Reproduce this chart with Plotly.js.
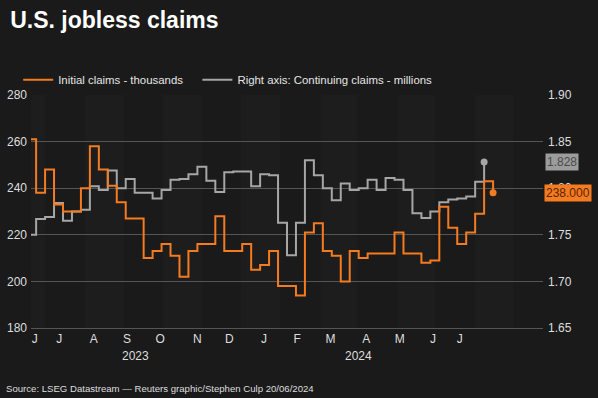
<!DOCTYPE html>
<html><head><meta charset="utf-8">
<script src="https://cdn.plot.ly/plotly-3.0.1.min.js"></script>
<style>html,body{margin:0;padding:0;background:#1a1a1a;} #chart{width:598px;height:398px;}</style>
</head><body><div id="chart"></div>
<script>
// Weekly dates (week ending)
const weekDates = ['2023-06-17','2023-06-24','2023-07-01','2023-07-08','2023-07-15','2023-07-22','2023-07-29',
 '2023-08-05','2023-08-12','2023-08-19','2023-08-26','2023-09-02','2023-09-09','2023-09-16','2023-09-23','2023-09-30',
 '2023-10-07','2023-10-14','2023-10-21','2023-10-28','2023-11-04','2023-11-11','2023-11-18','2023-11-25',
 '2023-12-02','2023-12-09','2023-12-16','2023-12-23','2023-12-30','2024-01-06','2024-01-13','2024-01-20','2024-01-27',
 '2024-02-03','2024-02-10','2024-02-17','2024-02-24','2024-03-02','2024-03-09','2024-03-16','2024-03-23','2024-03-30',
 '2024-04-06','2024-04-13','2024-04-20','2024-04-27','2024-05-04','2024-05-11','2024-05-18','2024-05-25',
 '2024-06-01','2024-06-08','2024-06-15'];
// Initial claims, thousands (left axis)
const initialClaims = [261,238,248,233,230,230,240,258,248,241,234,227,227,210,213,216,211,202,213,216,216,228,213,213,
 216,205,207,213,198,198,194,221,225,213,211,200,213,210,212,212,212,221,212,212,208,209,232,223,216,221,229,243,238];
// Continuing claims, millions (right axis) - one week behind
const continuingClaims = [1.750,1.767,1.769,1.784,1.765,1.775,1.777,1.802,1.798,1.819,1.800,1.810,1.795,1.795,1.789,1.798,
 1.809,1.810,1.815,1.823,1.808,1.796,1.817,1.818,1.818,1.802,1.815,1.814,1.763,1.728,1.763,1.830,1.814,1.800,1.787,1.805,
 1.798,1.800,1.809,1.798,1.811,1.809,1.798,1.773,1.768,1.775,1.785,1.788,1.789,1.791,1.807,1.828];
const continuingDates = weekDates.slice(0, continuingClaims.length);

// Axis tick labels
const monthTickDates = ['2023-06-23','2023-07-12','2023-08-08','2023-09-03','2023-09-29','2023-10-28','2023-11-22',
 '2023-12-19','2024-01-14','2024-02-09','2024-03-08','2024-04-03','2024-04-29','2024-05-20'];
const monthTickText = ['J','J','A','S','O','N','D','J','F','M','A','M','J','J'];
const yearLabels = ['2023','2024'];
const yearLabelDates = ['2023-09-10','2024-03-02'];
const leftTicks = [180,200,220,240,260,280];
const rightTicks = [1.65,1.70,1.75,1.80,1.85,1.90];
const rightTickText = ['1.65','1.70','1.75','1.80','1.85','1.90'];

const ORANGE = '#f47b20', GREY = '#a6a6a6', TXT = '#dedede', GRID = '#555555';
const FONT = 'Liberation Sans, Arial, sans-serif';

// alternating month bands
const shapes = [];
for (let i = 0; i < 14; i++) {
  if (i % 2 !== 0) continue;
  const s = new Date(Date.UTC(2023, 5 + i, 1));
  const e = new Date(Date.UTC(2023, 6 + i, 1));
  shapes.push({type:'rect', xref:'x', yref:'paper', x0:s.toISOString().slice(0,10), x1:e.toISOString().slice(0,10),
    y0:0, y1:1, fillcolor:'rgba(255,255,255,0.014)', line:{width:0}, layer:'below'});
}

const lastI = initialClaims.length - 1, lastC = continuingClaims.length - 1;
const traces = [
  {x: weekDates, y: initialClaims, yaxis:'y2', type:'scatter', mode:'lines', name:'Initial claims - thousands',
   line:{color:ORANGE, width:2, shape:'hv'}, hoverinfo:'skip', legend:'legend'},
  {x: continuingDates, y: continuingClaims, yaxis:'y', type:'scatter', mode:'lines', name:'Right axis: Continuing claims - millions',
   line:{color:GREY, width:2, shape:'hv'}, hoverinfo:'skip', legend:'legend2'},
  {x: [weekDates[lastI]], y: [initialClaims[lastI]], yaxis:'y2', type:'scatter', mode:'markers', showlegend:false,
   marker:{color:ORANGE, size:7}, hoverinfo:'skip'},
  {x: [continuingDates[lastC]], y: [continuingClaims[lastC]], yaxis:'y', type:'scatter', mode:'markers', showlegend:false,
   marker:{color:GREY, size:7}, hoverinfo:'skip'}
];

const annotations = [
  {xref:'paper', yref:'y', x:1.004, y:continuingClaims[lastC], xanchor:'left', yanchor:'middle', showarrow:false,
   text: continuingClaims[lastC].toFixed(3), bgcolor:'#9c9c9c', borderpad:1, font:{family:FONT, size:12, color:'#4a4a4a'}},
  {xref:'paper', yref:'y2', x:1.002, y:initialClaims[lastI], xanchor:'left', yanchor:'middle', showarrow:false,
   text: initialClaims[lastI].toFixed(3), bgcolor:'#f47b20', borderpad:1, font:{family:FONT, size:12, color:'#5a2400'}},
  {xref:'paper', yref:'paper', x:-0.053, y:-0.26, xanchor:'left', yanchor:'middle', showarrow:false,
   text:'Source: LSEG Datastream — Reuters graphic/Stephen Culp 20/06/2024', font:{family:FONT, size:9.6, color:TXT}}
];
yearLabels.forEach((t, i) => annotations.push({xref:'x', yref:'paper', x:yearLabelDates[i], y:-0.122, xanchor:'center',
  yanchor:'middle', showarrow:false, text:t, font:{family:FONT, size:12, color:TXT}}));

const legendBase = {orientation:'h', xanchor:'left', y:1.065, yanchor:'middle', font:{family:FONT, size:11.4, color:'#e6e6e6'},
  bgcolor:'rgba(0,0,0,0)', itemwidth:30};
const layout = {
  width:598, height:398,
  margin:{l:31, r:55, t:95, b:70},
  paper_bgcolor:'#1a1a1a', plot_bgcolor:'#1a1a1a',
  font:{family:FONT, color:TXT, size:12},
  title:{text:'<b>U.S. jobless claims</b>', x:0.017, xanchor:'left', xref:'container', y:0.95, yref:'container', yanchor:'middle',
    font:{family:FONT, size:23, color:'#ffffff'}},
  showlegend:true,
  legend:Object.assign({}, legendBase, {x:-0.025}),
  legend2:Object.assign({}, legendBase, {x:0.325}),
  xaxis:{type:'date', range:['2023-06-20','2024-07-24'], tickmode:'array', tickvals:monthTickDates, ticktext:monthTickText,
    showgrid:false, zeroline:false, showline:true, linecolor:GRID, linewidth:1, ticks:'',
    tickfont:{family:FONT, size:12, color:TXT}, fixedrange:true},
  yaxis:{range:[1.65,1.90], tickmode:'array', tickvals:rightTicks, ticktext:rightTickText, side:'right',
    showgrid:true, gridcolor:GRID, gridwidth:1, zeroline:false, ticks:'', ticklabelstandoff:4,
    tickfont:{family:FONT, size:12, color:TXT}},
  yaxis2:{range:[180,280], tickmode:'array', tickvals:leftTicks, overlaying:'y', side:'left', showgrid:false,
    zeroline:false, ticks:'', ticklabelstandoff:3, tickfont:{family:FONT, size:12, color:TXT}},
  shapes:shapes,
  annotations:annotations
};
Plotly.newPlot('chart', traces, layout, {displayModeBar:false, staticPlot:true});
</script></body></html>
